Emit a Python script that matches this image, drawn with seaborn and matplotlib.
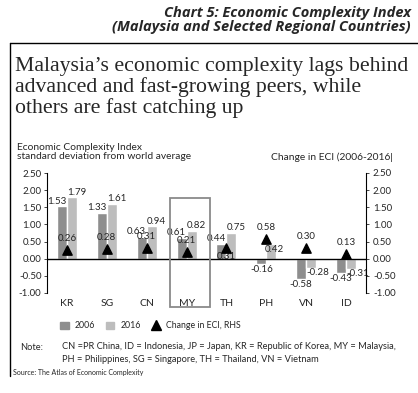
import numpy as np
import pandas as pd
import matplotlib
matplotlib.use("Agg")
import matplotlib.pyplot as plt
import seaborn as sns
from matplotlib.lines import Line2D
from matplotlib.patches import Patch, Rectangle

sns.set_style("white")
plt.rcParams['font.family'] = ['Lato', 'DejaVu Sans']

countries = ["KR", "SG", "CN", "MY", "TH", "PH", "VN", "ID"]
eci_2006 = [1.53, 1.33, 0.63, 0.61, 0.44, -0.16, -0.58, -0.43]
eci_2016 = [1.79, 1.61, 0.94, 0.82, 0.75, 0.42, -0.28, -0.31]
eci_change = [0.26, 0.28, 0.31, 0.21, 0.31, 0.58, 0.30, 0.13]
years = ["2006", "2016"]
yticks = [-1.0, -0.5, 0.0, 0.5, 1.0, 1.5, 2.0, 2.5]

title_lines = ["Malaysia\u2019s economic complexity lags behind",
               "advanced and fast-growing peers, while",
               "others are fast catching up"]
note_text = ("CN =PR China, ID = Indonesia, JP = Japan, KR = Republic of Korea, MY = Malaysia,\n"
             "PH = Philippines, SG = Singapore, TH = Thailand, VN = Vietnam")

c06, c16 = "#8e8e8e", "#bdbdbd"

df = pd.DataFrame({
    "country": countries * 2,
    "year": [years[0]] * len(countries) + [years[1]] * len(countries),
    "eci": eci_2006 + eci_2016,
})

W, H = 418, 393
fig = plt.figure(figsize=(W / 100, H / 100), dpi=100)

def fx(px):
    return px / W

def fy(py):
    return 1 - py / H

lab = 7

ax = fig.add_axes([fx(47), fy(293), fx(366) - fx(47), fy(173) - fy(293)])
sns.barplot(data=df, x="country", y="eci", hue="year", order=countries,
            palette=[c06, c16], width=0.5, saturation=1, legend=False, ax=ax)
ax.set_xlim(-0.5, len(countries) - 0.5)
ax.set_ylim(-1.0, 2.5)
ax.set_yticks(yticks)
ax.set_yticklabels([f"{v:.2f}" for v in yticks])
ax.set_xlabel("")
ax.set_ylabel("")
ax.axhline(0, color="black", lw=1)
for s in ["top", "right", "bottom"]:
    ax.spines[s].set_visible(False)
ax.spines["left"].set_color("black")
ax.spines["left"].set_linewidth(0.8)
ax.tick_params(axis="y", length=2, width=0.6, pad=2, labelsize=lab, direction="out", left=True)
ax.tick_params(axis="x", length=0, pad=4, labelsize=7.5)

ax2 = ax.twinx()
ax2.set_ylim(-1.0, 2.5)
ax2.set_yticks(yticks)
ax2.set_yticklabels([f"{v:.2f}" for v in yticks])
for s in ["top", "left", "bottom"]:
    ax2.spines[s].set_visible(False)
ax2.spines["right"].set_color("black")
ax2.spines["right"].set_linewidth(0.8)
ax2.tick_params(axis="y", length=2, width=0.6, pad=3, labelsize=lab, direction="out")
ax2.scatter(np.arange(len(countries)), eci_change, marker="^", s=45,
            color="black", zorder=5, clip_on=False)

# value labels
for i, bar in enumerate(ax.containers[0]):
    v = eci_2006[i]
    if v >= 0:
        ax.text(bar.get_x(), v + 0.02, f"{v:.2f}", ha="center", va="bottom", fontsize=lab)
    else:
        ax.text(bar.get_x() + bar.get_width() * 0.5, v - 0.03, f"{v:.2f}",
                ha="center", va="top", fontsize=lab)
for i, bar in enumerate(ax.containers[1]):
    v = eci_2016[i]
    x = bar.get_x() + bar.get_width()
    if v >= 0:
        if countries[i] == "PH":
            ax.text(x - 0.05, v - 0.02, f"{v:.2f}", ha="center", va="top", fontsize=lab)
        else:
            ax.text(x, v + 0.02, f"{v:.2f}", ha="center", va="bottom", fontsize=lab)
    else:
        ax.text(x + 0.05, v, f"{v:.2f}", ha="center", va="top", fontsize=lab)
for i, v in enumerate(eci_change):
    if countries[i] == "TH":
        ax2.annotate(f"{v:.2f}", (i, v), xytext=(0, -3), textcoords="offset points",
                     ha="center", va="top", fontsize=lab)
    else:
        ax2.annotate(f"{v:.2f}", (i, v), xytext=(0, 5), textcoords="offset points",
                     ha="center", va="bottom", fontsize=lab)

# Malaysia highlight box
ax.add_patch(Rectangle((2.58, -1.42), 1.0, 3.18, fill=False, edgecolor="#8a8a8a",
                       lw=1.3, clip_on=False, zorder=6))

# header and frame
fig.text(fx(411), fy(13), "Chart 5: Economic Complexity Index", ha="right", va="center",
         fontsize=10.5, weight="bold", style="italic", family="Open Sans")
fig.text(fx(411), fy(27), "(Malaysia and Selected Regional Countries)", ha="right", va="center",
         fontsize=10.5, weight="bold", style="italic", family="Open Sans")
fig.add_artist(Line2D([fx(10), 1], [fy(43), fy(43)], color="black", lw=1))
fig.add_artist(Line2D([fx(10), fx(10)], [fy(43), fy(376)], color="black", lw=1))

for k, line in enumerate(title_lines):
    fig.text(fx(15), fy(71 + 21 * k), line, ha="left", va="baseline",
             fontsize=15.7, family="Liberation Serif")

fig.text(fx(17), fy(147), "Economic Complexity Index", ha="left", va="center", fontsize=7.4)
fig.text(fx(17), fy(157), "standard deviation from world average", ha="left", va="center", fontsize=7.4)
fig.text(fx(393), fy(157), "Change in ECI (2006-2016|", ha="right", va="center", fontsize=7.4)

handles = [Patch(color=c06, label="2006"), Patch(color=c16, label="2016"),
           Line2D([], [], marker="^", color="black", linestyle="none", markersize=7,
                  label="Change in ECI, RHS")]
fig.legend(handles=handles, loc="center left", bbox_to_anchor=(fx(52), fy(326)), ncol=3,
           frameon=False, fontsize=6.3, handlelength=1.0, handleheight=1.0,
           columnspacing=1.2, handletextpad=0.7)

fig.text(fx(20), fy(348), "Note:", ha="left", va="center", fontsize=6.7)
fig.text(fx(62), fy(353), note_text, ha="left", va="center", fontsize=6.7, linespacing=1.45)
fig.text(fx(13), fy(373), "Source: The Atlas of Economic Complexity", ha="left", va="center",
         fontsize=5)

fig.savefig("out.png", dpi=100)
